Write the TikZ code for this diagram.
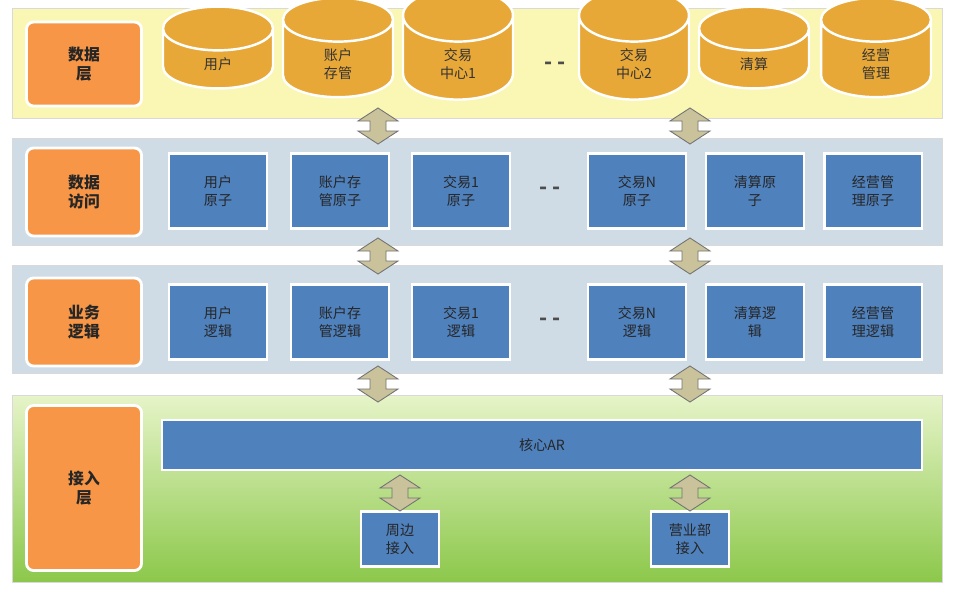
\documentclass[tikz,border=0pt]{standalone}
\usepackage{fontspec}
\setmainfont{Noto Sans CJK SC}
\usetikzlibrary{shapes.geometric}

\definecolor{bandyellow}{HTML}{FAF6B4}
\definecolor{bandblue}{HTML}{CFDCE6}
\definecolor{bandgreenA}{HTML}{E6F4C8}
\definecolor{bandgreenB}{HTML}{8CC84B}
\definecolor{layerorange}{HTML}{F79646}
\definecolor{dbfill}{HTML}{E8A838}
\definecolor{boxblue}{HTML}{4F81BD}
\definecolor{arrowfill}{HTML}{C9C29B}

\tikzset{
    band/.style = {draw = black!15, line width = 0.4pt},
    layer/.style = {%
        draw = white, line width = 1.6pt, fill = layerorange,
        rounded corners = 4pt, minimum width = 2.3cm, align = center,
        font = \fontsize{9}{11}\selectfont\bfseries, text = black!85
    },
    atom/.style = {%
        draw = white, line width = 1.4pt, fill = boxblue,
        minimum width = 1.95cm, minimum height = 1.5cm, align = center,
        font = \fontsize{8}{10}\selectfont, text = black!85
    },
    dbase/.style = {%
        cylinder, shape border rotate = 90, aspect = 1.1,
        draw = white, line width = 1.4pt, fill = dbfill,
        minimum width = 2.2cm, minimum height = 1.35cm, align = center,
        font = \fontsize{8}{10}\selectfont, text = black!80
    },
    gap/.style = {font = \bfseries\large, text = black!70},
    dblarrow/.pic = {%
        \draw[fill = arrowfill, draw = black!55, line width = 0.5pt]
            (0, -18) -- (20, -5) -- (8, -5) -- (8, 5) -- (20, 5)
            -- (0, 18) -- (-20, 5) -- (-8, 5) -- (-8, -5) -- (-20, -5) -- cycle;
    }
}

\begin{document}
\begin{tikzpicture}[x = 0.02cm, y = -0.02cm]

    \useasboundingbox (0, 0) rectangle (960, 592);
    \fill[white] (0, 0) rectangle (960, 592);

    % Four horizontal bands.
    \draw[band, fill = bandyellow] (12, 8) rectangle (942, 118);
    \draw[band, fill = bandblue] (12, 138) rectangle (942, 245);
    \draw[band, fill = bandblue] (12, 265) rectangle (942, 373);
    \draw[band, top color = bandgreenA, bottom color = bandgreenB]
        (12, 395) rectangle (942, 582);

    % Layer labels.
    \node[layer, minimum height = 1.68cm] (datalayer) at (84, 64) {数据\\层};
    \node[layer, minimum height = 1.76cm] (dataaccess) at (84, 192) {数据\\访问};
    \node[layer, minimum height = 1.76cm] (bizlogic) at (84, 322) {业务\\逻辑};
    \node[layer, minimum height = 3.3cm] (accesslayer) at (84, 488) {接入\\层};

    % Databases.
    \node[dbase] (dbuser) at (218, 64) {用户};
    \node[dbase] (dbacct) at (338, 64) {账户\\存管};
    \node[dbase] (dbtradeA) at (458, 64) {交易\\中心1};
    \node[gap] (dbgap) at (555, 66) {- -};
    \node[dbase] (dbtradeB) at (634, 64) {交易\\中心2};
    \node[dbase] (dbclear) at (754, 64) {清算};
    \node[dbase] (dbmanage) at (876, 64) {经营\\管理};

    % Data access atoms.
    \node[atom] (auser) at (218, 191) {用户\\原子};
    \node[atom] (aacct) at (340, 191) {账户存\\管原子};
    \node[atom] (atradeA) at (461, 191) {交易1\\原子};
    \node[gap] (agap) at (550, 191) {- -};
    \node[atom] (atradeN) at (637, 191) {交易N\\原子};
    \node[atom] (aclear) at (755, 191) {清算原\\子};
    \node[atom] (amanage) at (873, 191) {经营管\\理原子};

    % Business logic.
    \node[atom] (luser) at (218, 322) {用户\\逻辑};
    \node[atom] (lacct) at (340, 322) {账户存\\管逻辑};
    \node[atom] (ltradeA) at (461, 322) {交易1\\逻辑};
    \node[gap] (lgap) at (550, 322) {- -};
    \node[atom] (ltradeN) at (637, 322) {交易N\\逻辑};
    \node[atom] (lclear) at (755, 322) {清算逻\\辑};
    \node[atom] (lmanage) at (873, 322) {经营管\\理逻辑};

    % Access layer.
    \node[atom, minimum width = 15.2cm, minimum height = 1cm] (core) at (542, 445) {核心AR};
    \node[atom, minimum width = 1.55cm, minimum height = 1.1cm] (periph) at (400, 539) {周边\\接入};
    \node[atom, minimum width = 1.55cm, minimum height = 1.1cm] (branch) at (690, 539) {营业部\\接入};

    % Two-way arrows between the layers.
    \foreach \cx in {378, 690} {
        \pic at (\cx, 126) {dblarrow};
        \pic at (\cx, 256) {dblarrow};
        \pic at (\cx, 384) {dblarrow};
    }
    \pic at (400, 493) {dblarrow};
    \pic at (690, 493) {dblarrow};

\end{tikzpicture}
\end{document}
